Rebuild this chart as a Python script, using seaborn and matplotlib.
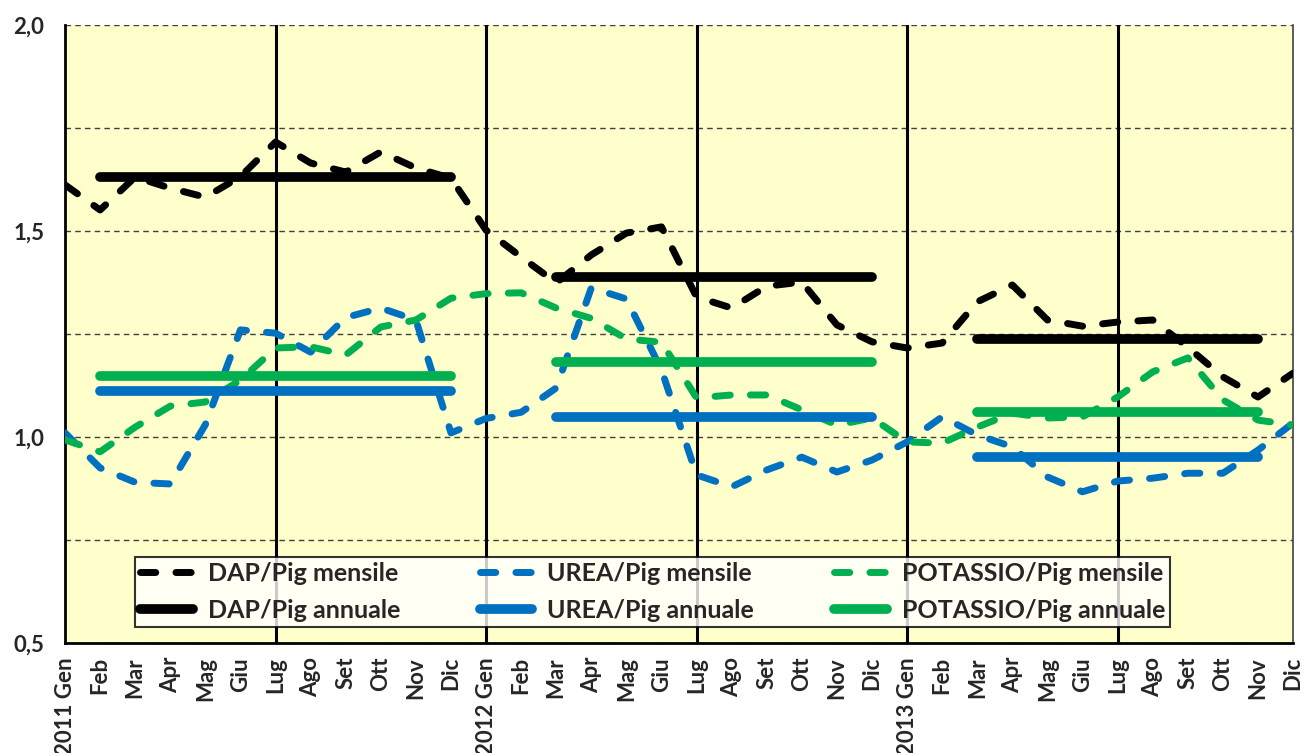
import matplotlib
matplotlib.use("Agg")
import matplotlib.pyplot as plt
from matplotlib.lines import Line2D
import seaborn as sns
import pandas as pd

# --------- Dati ---------
mesi = ["Gen", "Feb", "Mar", "Apr", "Mag", "Giu",
        "Lug", "Ago", "Set", "Ott", "Nov", "Dic"]
anni = ["2011", "2012", "2013"]
etichette = [f"{a} Gen" if m == "Gen" else m for a in anni for m in mesi]

dap_mensile = [1.612, 1.551, 1.631, 1.604, 1.582, 1.632, 1.716, 1.665, 1.643, 1.692, 1.653, 1.628,
               1.502, 1.437, 1.374, 1.442, 1.495, 1.510, 1.340, 1.313, 1.366, 1.376, 1.272, 1.231,
               1.216, 1.228, 1.328, 1.369, 1.284, 1.269, 1.279, 1.284, 1.218, 1.146, 1.097, 1.155]
urea_mensile = [1.010, 0.925, 0.890, 0.886, 1.030, 1.260, 1.252, 1.206, 1.290, 1.313, 1.284, 1.010,
                1.045, 1.060, 1.119, 1.362, 1.335, 1.163, 0.908, 0.879, 0.920, 0.951, 0.915, 0.944,
                0.988, 1.049, 1.005, 0.976, 0.903, 0.867, 0.893, 0.900, 0.912, 0.912, 0.968, 1.034]
potassio_mensile = [0.993, 0.964, 1.024, 1.075, 1.085, 1.138, 1.216, 1.219, 1.199, 1.267, 1.284, 1.337,
                    1.348, 1.350, 1.313, 1.288, 1.238, 1.230, 1.095, 1.102, 1.102, 1.066, 1.029, 1.046,
                    0.988, 0.985, 1.024, 1.058, 1.046, 1.049, 1.097, 1.158, 1.192, 1.090, 1.041, 1.029]

# medie annuali e mesi (indice) su cui sono tracciate
dap_annuale = [1.631, 1.388, 1.238]
urea_annuale = [1.112, 1.049, 0.951]
potassio_annuale = [1.148, 1.182, 1.061]
inizio_annuale = [1, 14, 26]
fine_annuale = [11, 23, 34]

NERO = "#000000"
BLU = "#0070C0"
VERDE = "#00B050"
TRATTEGGIO = (0, (2.2, 2.9))

serie = [
    ("DAP", dap_mensile, dap_annuale, NERO),
    ("UREA", urea_mensile, urea_annuale, BLU),
    ("POTASSIO", potassio_mensile, potassio_annuale, VERDE),
]

# --------- Grafico ---------
sns.set_style("white")
plt.rcParams["font.family"] = ["Lato", "DejaVu Sans"]
plt.rcParams["font.weight"] = "bold"

fig = plt.figure(figsize=(13.11, 7.53), dpi=100)
ax = fig.add_axes([0.0496, 0.1461, 0.9367, 0.8207])
ax.set_facecolor("#FFFFCC")

x = list(range(len(etichette)))
handles = []
for nome, mensile, annuale, colore in serie:
    df = pd.DataFrame({"mese": x, "valore": mensile})
    sns.lineplot(data=df, x="mese", y="valore", ax=ax, color=colore, linewidth=5,
                 linestyle=TRATTEGGIO, dash_capstyle="round", legend=False, zorder=3)
    for val, a, b in zip(annuale, inizio_annuale, fine_annuale):
        seg = pd.DataFrame({"mese": [a, b], "valore": [val, val]})
        sns.lineplot(data=seg, x="mese", y="valore", ax=ax, color=colore, linewidth=7,
                     solid_capstyle="round", legend=False, zorder=4)
    handles.append(Line2D([], [], color=colore, lw=5, linestyle=TRATTEGGIO,
                          dash_capstyle="round", label=f"{nome}/Pig mensile"))
    handles.append(Line2D([], [], color=colore, lw=7, solid_capstyle="round",
                          label=f"{nome}/Pig annuale"))

# separatori semestrali
for xv in [6, 12, 18, 24, 30]:
    ax.axvline(xv, color="black", lw=2.2, zorder=2)

ax.set_xlim(0, 35)
ax.set_ylim(0.5, 2.0)
ax.set_yticks([0.5, 1.0, 1.5, 2.0])
ax.set_yticks([0.75, 1.25, 1.75], minor=True)
ax.set_yticklabels(["0,5", "1,0", "1,5", "2,0"], fontsize=16, fontweight="bold")
ax.set_xticks(x)
ax.set_xticklabels(etichette, rotation=90, fontsize=16, fontweight="bold")
ax.set_xlabel("")
ax.set_ylabel("")
ax.yaxis.grid(True, which="both", linestyle=(0, (4, 3)), color="#404040", linewidth=1)
ax.set_axisbelow(True)
ax.tick_params(axis="x", which="major", direction="out", length=5, width=1.5, pad=5)
ax.tick_params(axis="y", which="major", direction="out", length=6, width=1.5, pad=9)
ax.tick_params(axis="y", which="minor", length=0)

for lato in ["left", "bottom"]:
    ax.spines[lato].set_color("black")
    ax.spines[lato].set_linewidth(2)
ax.spines["top"].set_visible(False)
ax.spines["right"].set_color("#404040")
ax.spines["right"].set_linewidth(1.2)

leg = ax.legend(handles=handles, ncol=3, loc="lower left", bbox_to_anchor=(0.057, 0.026),
                frameon=True, fancybox=False, edgecolor="black",
                handlelength=2.1, handletextpad=0.6, columnspacing=3.2,
                borderpad=0.2, labelspacing=0.55, borderaxespad=0,
                prop={"weight": "bold", "size": 18})
leg.get_frame().set_linewidth(1.5)
leg.set_zorder(6)

fig.savefig("out.png", dpi=100, facecolor="white")
